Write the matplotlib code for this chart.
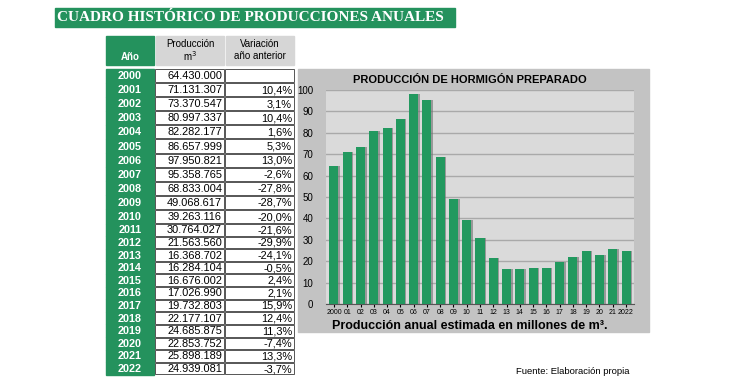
import matplotlib.pyplot as plt
from matplotlib.patches import Rectangle

plt.rcParams["font.family"] = ["Liberation Sans", "DejaVu Sans"]

years = [str(y) for y in range(2000, 2023)]
produccion = ["64.430.000", "71.131.307", "73.370.547", "80.997.337", "82.282.177",
              "86.657.999", "97.950.821", "95.358.765", "68.833.004", "49.068.617",
              "39.263.116", "30.764.027", "21.563.560", "16.368.702", "16.284.104",
              "16.676.002", "17.026.990", "19.732.803", "22.177.107", "24.685.875",
              "22.853.752", "25.898.189", "24.939.081"]
variacion = ["", "10,4%", "3,1%", "10,4%", "1,6%", "5,3%", "13,0%", "-2,6%", "-27,8%",
             "-28,7%", "-20,0%", "-21,6%", "-29,9%", "-24,1%", "-0,5%", "2,4%", "2,1%",
             "15,9%", "12,4%", "11,3%", "-7,4%", "13,3%", "-3,7%"]
bar_labels = ["2000", "01", "02", "03", "04", "05", "06", "07", "08", "09", "10", "11",
              "12", "13", "14", "15", "16", "17", "18", "19", "20", "21", "2022"]
millones = [64.43, 71.13, 73.37, 81.00, 82.28, 86.66, 97.95, 95.36, 68.83, 49.07,
            39.26, 30.76, 21.56, 16.37, 16.28, 16.68, 17.03, 19.73, 22.18, 24.69,
            22.85, 25.90, 24.94]

green = "#24925d"
bar_green = "#22995f"
W, H = 750, 383

fig = plt.figure(figsize=(7.5, 3.83), dpi=100, facecolor="white")
bg = fig.add_axes([0, 0, 1, 1])
bg.set_xlim(0, W)
bg.set_ylim(H, 0)
bg.axis("off")

# banner
bg.add_patch(Rectangle((55, 8), 400, 19, color=green))
bg.text(57, 17.5, "CUADRO HISTÓRICO DE PRODUCCIONES ANUALES", family="Liberation Serif",
        weight="bold", color="white", fontsize=11, va="center", ha="left")

# table header
bg.add_patch(Rectangle((106, 36), 48, 29, color=green))
bg.text(130, 57, "Año", color="white", weight="bold", fontsize=7, ha="center", va="center")
bg.add_patch(Rectangle((156, 36), 68, 29, color="#d6d6d6"))
bg.text(190, 44, "Producción", fontsize=7, ha="center", va="center")
bg.text(190, 56, "m$^3$", fontsize=7, ha="center", va="center")
bg.add_patch(Rectangle((226, 36), 68, 29, color="#d6d6d6"))
bg.text(260, 44, "Variación", fontsize=7, ha="center", va="center")
bg.text(260, 56, "año anterior", fontsize=7, ha="center", va="center")

# table rows
top = 68.5
for i in range(len(years)):
    h = 14.1 if i < 11 else 12.6
    bg.add_patch(Rectangle((106, top), 48, h, color=green))
    bg.add_patch(Rectangle((155, top + 0.5), 69, h - 1, facecolor="white",
                           edgecolor="#555555", lw=0.7))
    bg.add_patch(Rectangle((225, top + 0.5), 69, h - 1, facecolor="white",
                           edgecolor="#555555", lw=0.7))
    yc = top + h / 2 + 0.5
    bg.text(130, yc, years[i], color="white", weight="bold", fontsize=7.8, ha="center", va="center")
    bg.text(222, yc, produccion[i], fontsize=7.9, ha="right", va="center")
    bg.text(292, yc, variacion[i], fontsize=7.9, ha="right", va="center")
    top += h

# chart panel
bg.add_patch(Rectangle((298, 69), 351, 263, color="#c3c3c3"))
bg.text(470, 80, "PRODUCCIÓN DE HORMIGÓN PREPARADO", weight="bold", fontsize=8,
        ha="center", va="center")
bg.text(470, 326, "Producción anual estimada en millones de m³.", weight="bold",
        fontsize=9, ha="center", va="center")
bg.text(516, 372, "Fuente: Elaboración propia", fontsize=6.8, ha="left", va="center")

ax = fig.add_axes([326 / W, 1 - 304 / H, (634 - 326) / W, (304 - 90) / H])
ax.set_facecolor("#dadada")
x = list(range(len(millones)))
ax.bar([v + 0.12 for v in x], millones, width=0.68, color="#6f6f6f", alpha=0.6, zorder=2)
ax.bar(x, millones, width=0.68, color=bar_green, zorder=3)
ax.set_xlim(-0.6, len(millones) - 0.4)
ax.set_ylim(0, 100)
ax.set_yticks(range(0, 101, 10))
ax.grid(axis="y", color="#a9a9a9", lw=1, zorder=1)
ax.set_xticks(x)
ax.set_xticklabels(bar_labels, fontsize=5)
ax.tick_params(axis="y", labelsize=7, length=0, pad=9)
ax.tick_params(axis="x", length=2, pad=1.5)
for s in ["top", "right", "left"]:
    ax.spines[s].set_visible(False)
ax.spines["bottom"].set_color("#555555")

fig.savefig("out.png", dpi=100, facecolor="white")
